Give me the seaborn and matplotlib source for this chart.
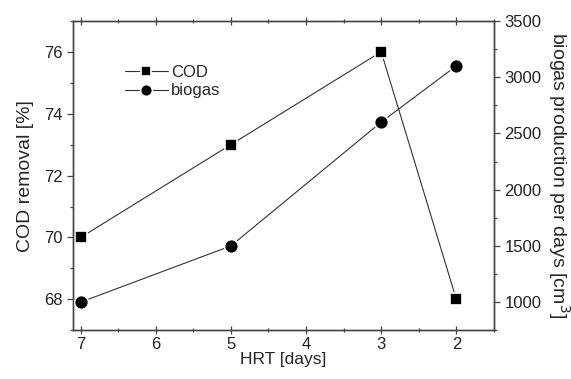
import matplotlib
matplotlib.use("Agg")
import matplotlib.pyplot as plt
from matplotlib.ticker import MultipleLocator
import seaborn as sns
import pandas as pd

hrt = [7, 5, 3, 2]
cod = [70, 73, 76, 68]
biogas = [1000, 1500, 2600, 3100]
x_ticks = [7, 6, 5, 4, 3, 2]

sns.set_style("ticks")
plt.rcParams['font.family'] = ['Liberation Sans', 'DejaVu Sans']
plt.rcParams['font.size'] = 12

df = pd.DataFrame({"hrt": hrt, "cod": cod, "biogas": biogas})

fig = plt.figure(figsize=(5.71, 3.79), dpi=100)
ax = fig.add_axes([0.128, 0.1285, 0.737, 0.8165])
ax2 = ax.twinx()

line_kw = dict(color="#333333", linewidth=0.8, markeredgecolor="white",
               markerfacecolor="black", markeredgewidth=1.2)
sns.lineplot(data=df, x="hrt", y="cod", ax=ax, marker="s", markersize=8.5,
             label="COD", legend=False, **line_kw)
sns.lineplot(data=df, x="hrt", y="biogas", ax=ax2, marker="o", markersize=10,
             label="biogas", legend=False, **line_kw)

ax.set_xlim(7.1, 1.5)
ax.set_ylim(67, 77)
ax2.set_ylim(750, 3500)

ax.set_xticks(x_ticks)
ax.xaxis.set_minor_locator(MultipleLocator(0.5))
ax.set_yticks([68, 70, 72, 74, 76])
ax.yaxis.set_minor_locator(MultipleLocator(1))
ax2.set_yticks([1000, 1500, 2000, 2500, 3000, 3500])
ax2.yaxis.set_minor_locator(MultipleLocator(250))

ax.set_xlabel("HRT [days]", fontsize=12.5, labelpad=0)
ax.set_ylabel("COD removal [%]", fontsize=14, labelpad=7)
ax2.set_ylabel("biogas production per days [cm$^3$]", fontsize=14,
               rotation=270, labelpad=22)

for a in (ax, ax2):
    for s in a.spines.values():
        s.set_visible(True)
        s.set_color("#444444")
        s.set_linewidth(1.0)
    a.tick_params(colors="#222222", labelsize=12)
    a.tick_params(which="major", length=4, width=0.9, color="#444444")
    a.tick_params(which="minor", length=2.5, width=0.9, color="#444444")
    a.grid(False)

ax.tick_params(axis="x", which="both", direction="inout", top=True, pad=2)
ax.tick_params(axis="x", which="major", length=6)
ax.tick_params(axis="y", which="both", direction="out", right=False)
ax2.tick_params(axis="y", which="both", direction="out", left=False)

h1, l1 = ax.get_legend_handles_labels()
h2, l2 = ax2.get_legend_handles_labels()
ax.legend(h1 + h2, l1 + l2, loc="upper left", bbox_to_anchor=(0.095, 0.895),
          frameon=False, fontsize=12, handlelength=2.6, handletextpad=0.2,
          labelspacing=0.2, borderpad=0.2, markerscale=0.85)

fig.savefig("out.png", dpi=100)
